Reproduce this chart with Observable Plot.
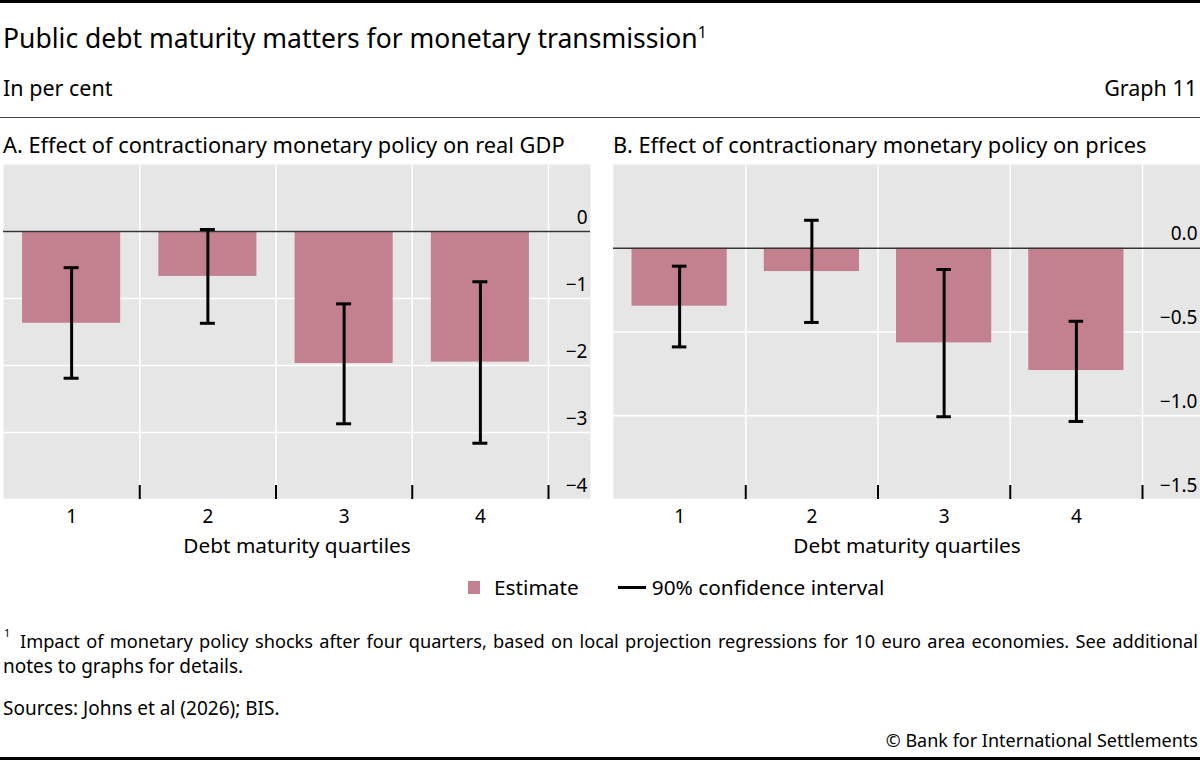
<!DOCTYPE html>
<html>
<head>
<meta charset="utf-8">
<script src="https://cdn.jsdelivr.net/npm/d3@7"></script>
<script src="https://cdn.jsdelivr.net/npm/@observablehq/plot@0.6"></script>
<style>
  html, body { margin: 0; padding: 0; background: #fff; }
  #wrap { position: relative; width: 1200px; height: 761px; overflow: hidden; font-family: "Noto Sans", "Open Sans", sans-serif; color: #000; }
  .abs { position: absolute; white-space: nowrap; }
  .rule { position: absolute; left: 0; width: 1200px; }
  .sup { font-size: 0.6em; vertical-align: top; line-height: 1; }
  svg { overflow: visible; }
</style>
</head>
<body>
<div id="wrap">
  <div class="rule" style="top:0;height:3px;background:#000"></div>
  <div class="abs" style="left:3px;top:22px;font-size:26.5px;line-height:32px">Public debt maturity matters for monetary transmission<span class="sup" style="position:relative;top:3px">1</span></div>
  <div class="abs" style="left:3px;top:76px;font-size:21.5px;line-height:24px">In per cent</div>
  <div class="abs" style="right:3px;top:76px;font-size:21.5px;line-height:24px">Graph 11</div>
  <div class="rule" style="top:116.5px;height:1.5px;background:#444"></div>
  <div class="abs" style="left:3px;top:133px;font-size:21.8px;line-height:24px">A. Effect of contractionary monetary policy on real GDP</div>
  <div class="abs" style="left:613px;top:133px;font-size:21.8px;line-height:24px">B. Effect of contractionary monetary policy on prices</div>
  <div id="chartA" class="abs" style="left:0;top:150px"></div>
  <div id="chartB" class="abs" style="left:600px;top:150px"></div>
  <div class="abs" style="left:468px;top:575px;font-size:20.8px;line-height:24px;display:flex;align-items:center">
    <span style="display:inline-block;width:12px;height:13px;background:#c3808f;margin-right:14px"></span>
    <span>Estimate</span>
    <span style="display:inline-block;width:28px;height:3px;background:#000;margin-left:39px;margin-right:6px"></span>
    <span>90% confidence interval</span>
  </div>
  <div class="abs" style="left:4px;top:627px;font-size:11px;line-height:12px">1</div>
  <div class="abs" style="left:20px;top:629px;width:1178px;font-size:18.2px;line-height:25px;white-space:nowrap;text-align:justify;text-align-last:justify">Impact of monetary policy shocks after four quarters, based on local projection regressions for 10 euro area economies. See additional</div>
  <div class="abs" style="left:3px;top:654px;font-size:19px;line-height:25px">notes to graphs for details.</div>
  <div class="abs" style="left:3px;top:696px;font-size:19px;line-height:24px">Sources: Johns et al (2026); BIS.</div>
  <div class="abs" style="right:2px;top:728px;font-size:18px;line-height:24px">© Bank for International Settlements</div>
  <div class="rule" style="top:757px;height:3px;background:#000"></div>
</div>
<script>
// Data
const quartiles = [1, 2, 3, 4];
const gdpEstimate = [-1.37, -0.67, -1.97, -1.95];
const gdpLow = [-2.19, -1.37, -2.87, -3.16];
const gdpHigh = [-0.54, 0.03, -1.08, -0.75];
const priceEstimate = [-0.346, -0.139, -0.565, -0.73];
const priceLow = [-0.589, -0.443, -1.006, -1.034];
const priceHigh = [-0.107, 0.167, -0.127, -0.436];
const gdpTicks = [0, -1, -2, -3, -4];
const priceTicks = [0, -0.5, -1.0, -1.5];
const boundaries = [1.5, 2.5, 3.5, 4.5];

const barColor = "#c3808f";
const bgColor = "#e6e6e6";

function rows(est, lo, hi) {
  return quartiles.map((q, i) => ({q, est: est[i], lo: lo[i], hi: hi[i]}));
}

function panel({data, yDomain, yTicks, yFormat, marginLeft, marginRight, xRange}) {
  const halfBar = 0.36, halfCap = 0.055;
  return Plot.plot({
    width: 600,
    height: 420,
    marginTop: 14,
    marginBottom: 71,
    marginLeft,
    marginRight,
    style: {fontFamily: '"Noto Sans", "Open Sans", sans-serif', color: "#000", background: "transparent", overflow: "visible"},
    x: {type: "linear", domain: [0.5, 4.5], range: xRange},
    y: {domain: yDomain},
    marks: [
      Plot.frame({fill: bgColor, stroke: null}),
      Plot.ruleY(yTicks, {stroke: "#fff", strokeWidth: 1.5}),
      Plot.ruleX(boundaries, {stroke: "#fff", strokeWidth: 1.5}),
      Plot.rectY(data, {x1: d => d.q - halfBar, x2: d => d.q + halfBar, y1: 0, y2: "est", fill: barColor}),
      Plot.ruleY([0], {stroke: "#333", strokeWidth: 1.5}),
      Plot.ruleX(data, {x: "q", y1: "lo", y2: "hi", stroke: "#000", strokeWidth: 3}),
      Plot.ruleY(data, {x1: d => d.q - halfCap, x2: d => d.q + halfCap, y: "lo", stroke: "#000", strokeWidth: 3}),
      Plot.ruleY(data, {x1: d => d.q - halfCap, x2: d => d.q + halfCap, y: "hi", stroke: "#000", strokeWidth: 3}),
      Plot.axisX(boundaries, {tickSize: -14, strokeWidth: 2, tickFormat: () => "", label: null}),
      Plot.axisX(quartiles, {tickSize: 0, tickPadding: 10, fontSize: 19, label: null, tickFormat: d3.format("d")}),
      Plot.axisY(yTicks, {anchor: "right", tickSize: 0, tickPadding: 0, textAnchor: "end", dx: -3, dy: -14, fontSize: 19, label: null, tickFormat: yFormat}),
      Plot.text(["Debt maturity quartiles"], {frameAnchor: "bottom", dy: 53, fontSize: 20.8, fill: "#000"})
    ]
  });
}

document.getElementById("chartA").appendChild(panel({
  data: rows(gdpEstimate, gdpLow, gdpHigh),
  yDomain: [-4, 1],
  yTicks: gdpTicks,
  yFormat: d3.format("d"),
  marginLeft: 3,
  marginRight: 10,
  xRange: [3, 548]
}));

document.getElementById("chartB").appendChild(panel({
  data: rows(priceEstimate, priceLow, priceHigh),
  yDomain: [-1.5, 0.5],
  yTicks: priceTicks,
  yFormat: d3.format(".1f"),
  marginLeft: 13,
  marginRight: 0,
  xRange: [13, 542]
}));
</script>
</body>
</html>
